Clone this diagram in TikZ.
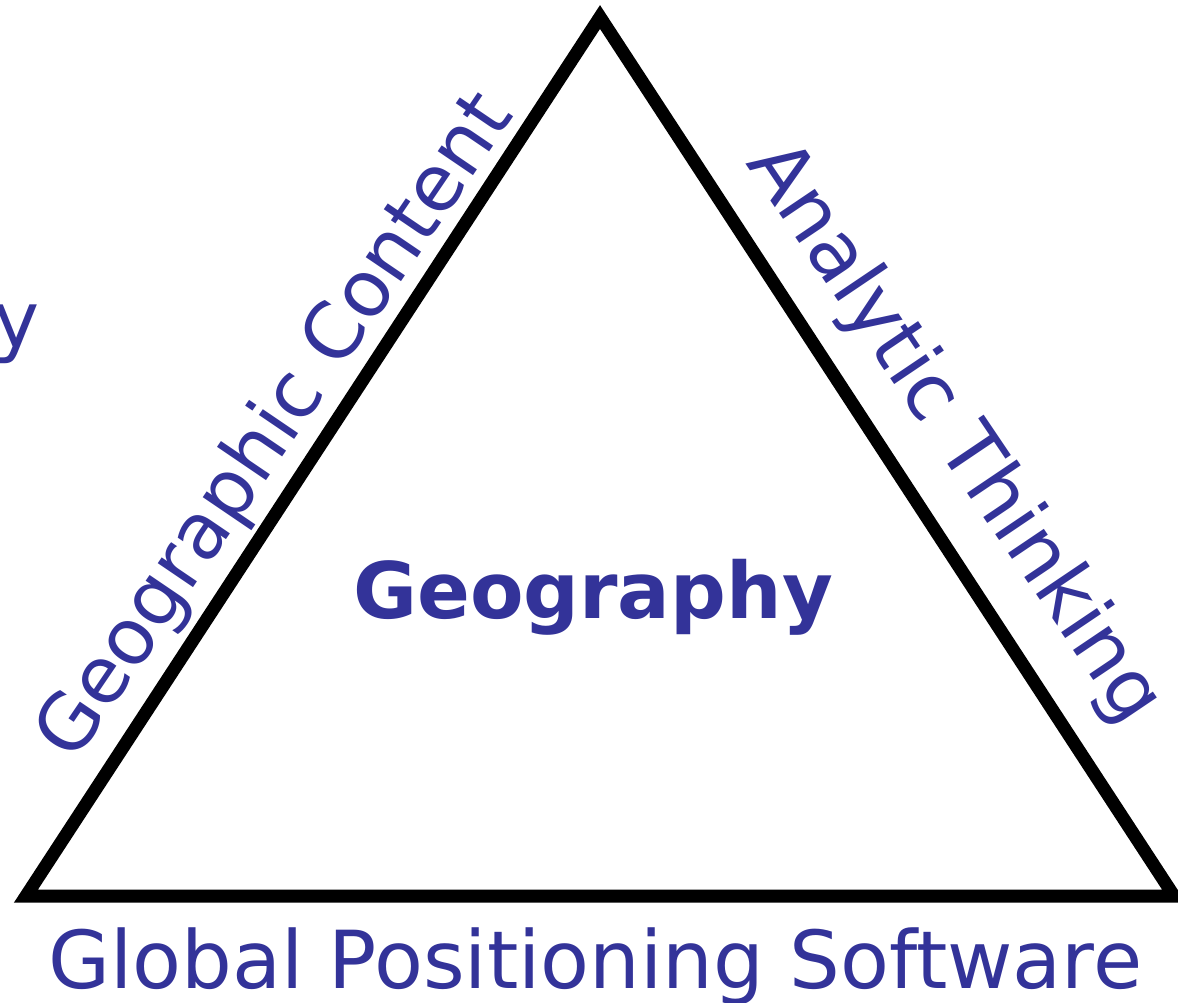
\documentclass[tikz,border=0pt]{standalone}
\usepackage{fontspec}
\setmainfont{DejaVu Sans}
\definecolor{txtblue}{RGB}{51,51,153}
\begin{document}
\begin{tikzpicture}[x=1pt,y=-1pt,
  lbl/.style={text=txtblue,inner sep=0pt,font=\fontsize{78}{90}\selectfont},
  tri/.style={draw=black,line width=13pt,line join=miter}]
\useasboundingbox[fill=white] (0,0) rectangle (1178,1003);
\coordinate (apex) at (600,17);
\coordinate (bl) at (26,896);
\coordinate (br) at (1174,896);
\draw[tri] (apex) -- (bl) -- (br) -- cycle;
\node[lbl,anchor=base west,rotate=55.8] (gc) at (74,764) {Geographic Content};
\node[lbl,anchor=base west,rotate=-56,font=\fontsize{79}{90}\selectfont] (at) at (745,163) {Analytic Thinking};
\node[lbl,anchor=base,font=\fontsize{78}{90}\selectfont\bfseries] (geo) at (593,618) {Geography};
\node[lbl,anchor=base,font=\fontsize{80}{90}\selectfont] (gps) at (595,988) {Global Positioning Software};
\node[lbl,anchor=base east] (yy) at (40,347) {y};
\end{tikzpicture}
\end{document}
